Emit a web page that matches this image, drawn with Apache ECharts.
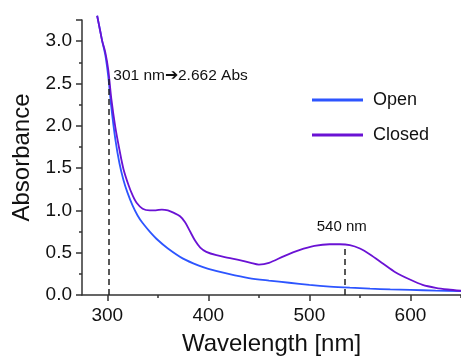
<!DOCTYPE html>
<html><head><meta charset="utf-8">
<script src="https://cdn.jsdelivr.net/npm/echarts@6/dist/echarts.min.js"></script>
<style>html,body{margin:0;padding:0;background:#fff}#c{width:461px;height:356px}</style>
</head><body><div id="c"></div>
<script>
const openData = [[290,3.30],[293,3.12],[295,3.0],[298,2.84],[301,2.58],[304,2.22],[308,1.84],[312,1.56],[316,1.36],[320,1.21],[325,1.06],[330,0.94],[335,0.85],[342,0.75],[350,0.65],[360,0.55],[375,0.43],[390,0.35],[400,0.31],[420,0.25],[440,0.20],[460,0.17],[480,0.145],[500,0.12],[520,0.10],[540,0.086],[560,0.075],[580,0.066],[600,0.06],[625,0.052],[650,0.047]];
const closedData = [[290,3.30],[293,3.12],[295,3.0],[298,2.87],[301,2.662],[304,2.32],[308,1.98],[312,1.72],[316,1.49],[321,1.30],[325,1.18],[329,1.09],[335,1.02],[342,1.00],[348,1.0],[354,1.01],[360,1.0],[366,0.97],[372,0.93],[377,0.86],[382,0.75],[387,0.64],[392,0.56],[398,0.51],[408,0.47],[420,0.44],[432,0.41],[442,0.38],[450,0.36],[460,0.38],[475,0.46],[490,0.53],[505,0.58],[520,0.60],[530,0.60],[540,0.59],[550,0.55],[560,0.48],[573,0.37],[585,0.27],[600,0.18],[612,0.12],[625,0.085],[637,0.065],[650,0.05]];
const xMajor = [300,400,500,600];
const xMinor = [350,450,550,650];
const seriesNames = ['Open','Closed'];
const peak1 = {x:301, y:2.662, top:2.58, labelY:2.594, label:'301 nm\u2794' + '2.662 Abs'};
const peak2 = {x:535, top:0.59, labelX:532, labelY:0.80, label:'540 nm'};

const axisCol = '#333';
const ff = 'Liberation Sans, Arial';
const chart = echarts.init(document.getElementById('c'));
chart.setOption({
  animation:false,
  grid:{left:82,top:20,right:0,bottom:61,containLabel:false,outerBoundsMode:'none'},
  legend:{orient:'vertical',left:307,top:86,itemGap:17,itemWidth:51,itemHeight:3,icon:'rect',
    textStyle:{fontFamily:ff,fontSize:18,color:'#111',padding:[0,0,0,5]},
    data:seriesNames},
  xAxis:[{type:'value',min:275,max:650,
    name:'Wavelength [nm]',nameLocation:'middle',nameGap:37,
    nameTextStyle:{fontFamily:ff,fontSize:24,color:'#111'},
    axisLine:{lineStyle:{color:axisCol,width:1.5}},
    axisTick:{customValues:xMajor,length:6,inside:false,lineStyle:{color:axisCol,width:1.5}},
    axisLabel:{customValues:xMajor,fontFamily:ff,fontSize:19,color:'#111',margin:11},
    splitLine:{show:false}},
   {type:'value',min:275,max:650,position:'bottom',
    axisLine:{show:false},
    axisTick:{customValues:xMinor,length:3,lineStyle:{color:axisCol,width:1.5}},
    axisLabel:{show:false},splitLine:{show:false}}],
  yAxis:{type:'value',min:0,max:3.25,interval:0.5,
    name:'Absorbance',nameLocation:'middle',nameGap:47,
    nameTextStyle:{fontFamily:ff,fontSize:24,color:'#111'},
    axisLine:{show:true,lineStyle:{color:axisCol,width:1.5}},
    axisTick:{show:true,length:6,lineStyle:{color:axisCol,width:1.5}},
    minorTick:{show:true,splitNumber:2,length:3,lineStyle:{color:axisCol,width:1.5}},
    axisLabel:{fontFamily:ff,fontSize:19,color:'#111',margin:10,showMaxLabel:false,
      formatter:v=>v.toFixed(1)},
    splitLine:{show:false}},
  series:[
    {name:'Open',type:'line',data:openData,smooth:0.3,showSymbol:false,clip:false,
      lineStyle:{color:'#2d55ff',width:1.8},itemStyle:{color:'#2d55ff'},z:2},
    {name:'Closed',type:'line',data:closedData,smooth:0.3,showSymbol:false,clip:false,
      lineStyle:{color:'#6a12d4',width:1.8},itemStyle:{color:'#6a12d4'},z:3,
      markLine:{silent:true,symbol:'none',label:{show:false},
        lineStyle:{color:'#222',type:[6,4],width:1.5},
        data:[[{coord:[peak1.x,0]},{coord:[peak1.x,peak1.top]}],
              [{coord:[peak2.x,0]},{coord:[peak2.x,peak2.top]}]]},
      markPoint:{silent:true,symbol:'circle',symbolSize:0,
        data:[{coord:[peak1.x,peak1.labelY],label:{show:true,position:'right',distance:5,formatter:peak1.label,
                fontFamily:ff,fontSize:15.5,color:'#111'}},
              {coord:[peak2.labelX,peak2.labelY],label:{show:true,position:'inside',formatter:peak2.label,
                fontFamily:ff,fontSize:15,color:'#111'}}]}}
  ]
});
</script></body></html>
